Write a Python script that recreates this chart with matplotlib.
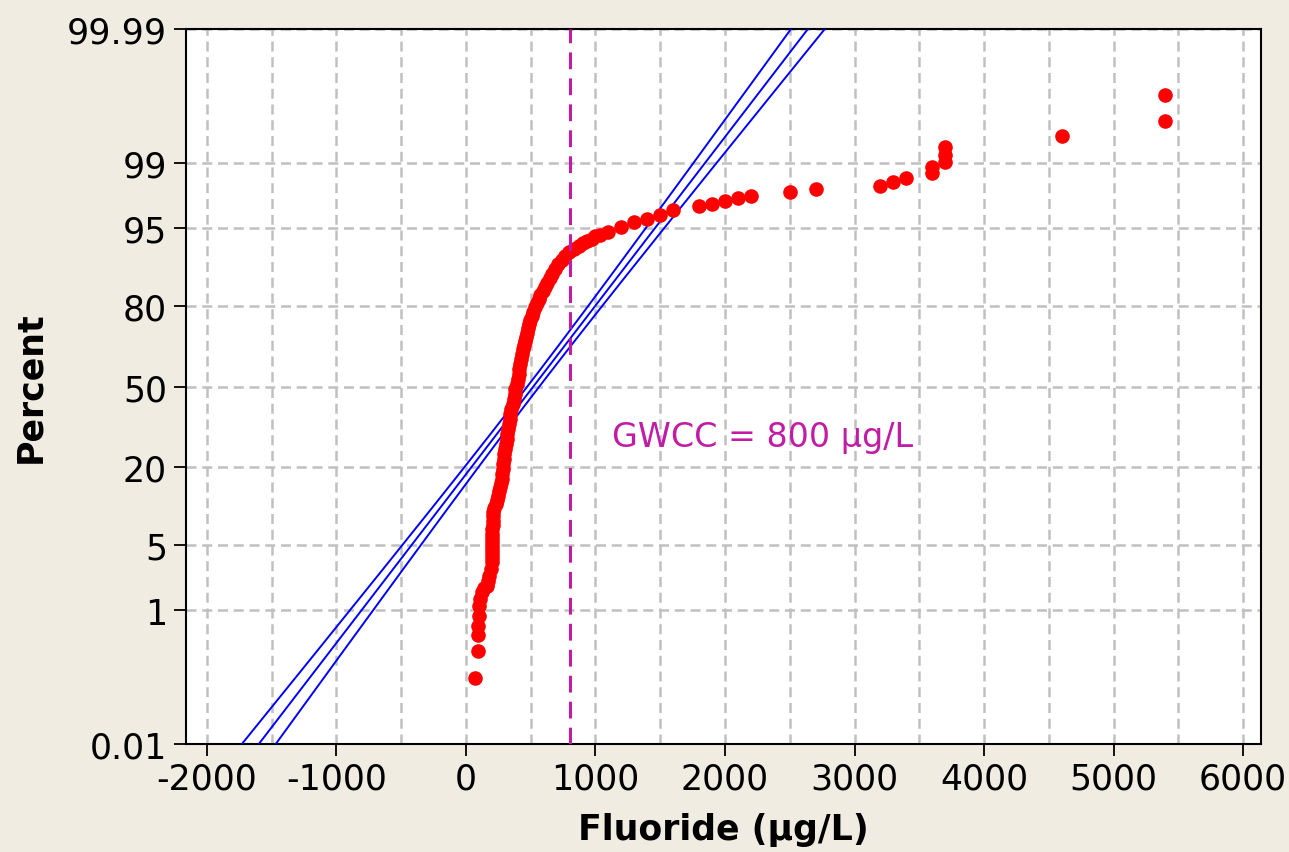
import math
from statistics import NormalDist

import numpy as np
import matplotlib
matplotlib.use("Agg")
import matplotlib.pyplot as plt
from matplotlib.ticker import FixedLocator, FixedFormatter, MultipleLocator, NullLocator

plt.rcParams["axes.unicode_minus"] = False

# sample values (ug/L) and their plotting percent
fluoride = [70, 90, 90, 90, 100, 100, 110, 120, 140, 160, 170, 180, 190,
            200, 200, 200, 200, 200, 200, 200, 200, 200, 205, 205, 210, 210,
            219, 228, 239, 247, 255, 263, 270, 276, 280, 284, 289, 293, 297,
            301, 307, 313, 318, 324, 330, 336, 343, 351, 360, 371, 377, 382,
            391, 400, 406, 413, 420, 427, 432, 438, 448, 456, 463, 471, 479,
            489, 498, 510, 521, 533, 548, 560, 575, 591, 608, 625, 649, 662,
            687, 714, 741, 768, 799, 834, 869, 903, 938, 973, 1000, 1035,
            1100, 1200, 1300, 1400, 1500, 1600, 1800, 1900, 2000, 2100, 2200,
            2500, 2700, 3200, 3300, 3400, 3600, 3600, 3700, 3700, 3700, 4600,
            5400, 5400]
percent = [0.12, 0.30, 0.48, 0.64, 0.86, 1.13, 1.35, 1.63, 1.80, 1.91, 2.15,
           2.45, 2.88, 3.39, 3.72, 4.07, 4.45, 4.86, 5.28, 5.75, 6.25, 6.92,
           7.48, 8.09, 8.90, 9.58, 10.3, 11.1, 11.9, 12.8, 13.85, 14.8, 15.8,
           16.8, 18.1, 19.5, 21.0, 22.5, 24.1, 25.8, 27.5, 29.3, 31.1, 32.9,
           34.8, 36.8, 38.7, 40.7, 42.8, 44.8, 46.9, 49.0, 51.0, 53.1, 55.2,
           57.2, 59.3, 61.3, 63.2, 65.2, 66.7, 68.2, 69.7, 71.1, 72.7, 74.2,
           75.6, 76.8, 78.2, 79.6, 80.8, 81.9, 82.9, 84.0, 85.0, 85.9, 87.0,
           87.9, 88.9, 89.9, 90.6, 91.3, 91.9, 92.4, 92.8, 93.2, 93.5, 93.75,
           94.07, 94.31, 94.63, 95.11, 95.62, 95.93, 96.28, 96.68, 96.96,
           97.12, 97.32, 97.49, 97.64, 97.83, 98.01, 98.15, 98.34, 98.51,
           98.68, 98.87, 99.02, 99.20, 99.37, 99.54, 99.71, 99.88]

# fitted normal line + 95% CI
fit_mean = 520
fit_std = 570
n_samples = 580

gwcc = 800
gwcc_label = "GWCC = 800 \u00b5g/L"

y_ticks = [0.01, 1, 5, 20, 50, 80, 95, 99, 99.99]
y_tick_labels = ["0.01", "1", "5", "20", "50", "80", "95", "99", "99.99"]
x_ticks = [-2000, -1000, 0, 1000, 2000, 3000, 4000, 5000, 6000]

_nd = NormalDist()


def _probit(p):
    arr = np.asarray(p, dtype=float)
    flat = arr.ravel()
    res = np.array([_nd.inv_cdf(min(max(v / 100.0, 1e-12), 1 - 1e-12))
                    if np.isfinite(v) else np.nan for v in flat])
    return res.reshape(arr.shape)


def _inv_probit(z):
    arr = np.asarray(z, dtype=float)
    flat = arr.ravel()
    res = np.array([50.0 * (1 + math.erf(v / math.sqrt(2)))
                    if np.isfinite(v) else np.nan for v in flat])
    return res.reshape(arr.shape)


fig = plt.figure(figsize=(12.89, 8.53), dpi=100)
fig.patch.set_facecolor("#F0ECE2")
ax = fig.add_axes([0.1443, 0.1266, 0.834, 0.8382])
ax.set_facecolor("white")
ax.set_yscale("function", functions=(_probit, _inv_probit))

# fitted line and confidence band
z_line = np.linspace(-4.2, 4.2, 300)
p_line = _inv_probit(z_line)
center = fit_mean + z_line * fit_std
half = 1.96 * fit_std * np.sqrt((1 + z_line ** 2 / 2) / n_samples)
for xs in (center - half, center, center + half):
    ax.plot(xs, p_line, color="#0000FF", lw=1.4, zorder=3)

ax.plot(fluoride, percent, "o", color="#FF0000", ms=10.5, mec="none", zorder=4)

ax.axvline(gwcc, color="#C21BA5", lw=2.2, linestyle=(0, (5.5, 3)), zorder=5)
ax.text(1130, 30.3, gwcc_label, color="#C21BA5", fontsize=24,
        ha="left", va="center", zorder=6)

ax.set_xlim(-2162, 6139)
ax.set_ylim(0.01, 99.99)

ax.yaxis.set_major_locator(FixedLocator(y_ticks))
ax.yaxis.set_major_formatter(FixedFormatter(y_tick_labels))
ax.yaxis.set_minor_locator(NullLocator())
ax.xaxis.set_major_locator(FixedLocator(x_ticks))
ax.xaxis.set_minor_locator(MultipleLocator(500))

ax.set_axisbelow(True)
grid_kw = dict(color="#C0C0C0", linestyle=(0, (4, 2.3)), lw=1.8)
ax.grid(True, which="major", axis="y", **grid_kw)
ax.grid(True, which="both", axis="x", **grid_kw)

ax.tick_params(which="major", direction="out", length=8.6, width=1.3,
               color="black", labelsize=25)
ax.tick_params(axis="y", pad=5)
ax.tick_params(axis="x", pad=4)
ax.tick_params(which="minor", length=0)
for sp in ax.spines.values():
    sp.set_linewidth(1.5)
    sp.set_color("black")

ax.set_xlabel("Fluoride (\u00b5g/L)", fontsize=25, fontweight="bold",
              va="center")
ax.xaxis.set_label_coords(0.5, -0.119)
ax.set_ylabel("Percent", fontsize=25, fontweight="bold", va="center")
ax.yaxis.set_label_coords(-0.145, 0.5)

fig.savefig("out.png", dpi=100, facecolor=fig.get_facecolor())
